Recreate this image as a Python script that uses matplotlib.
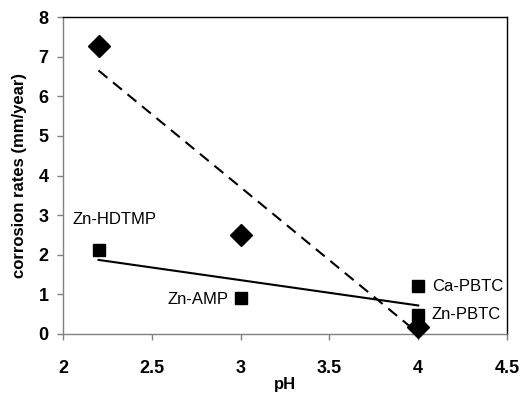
import matplotlib
matplotlib.use('Agg')
from matplotlib import pyplot as plt

# data
ph_diamond = [2.2, 3.0, 4.0]
rate_diamond = [7.28, 2.5, 0.18]

ph_square = [2.2, 3.0, 4.0, 4.0]
rate_square = [2.12, 0.9, 1.2, 0.47]
square_names = ['Zn-HDTMP', 'Zn-AMP', 'Ca-PBTC', 'Zn-PBTC']

# trend line end points
trend_dash_x = [2.2, 4.0]
trend_dash_y = [6.65, 0.02]
trend_solid_x = [2.2, 4.0]
trend_solid_y = [1.87, 0.72]

plt.rcParams['font.family'] = ['Liberation Sans', 'DejaVu Sans']

fig = plt.figure(figsize=(5.22, 4.0), dpi=100)
fig.patch.set_facecolor('white')
ax = fig.add_axes([0.1207, 0.165, 0.8506, 0.7925])

ax.plot(trend_dash_x, trend_dash_y, color='black', linestyle=(0, (5.5, 3.5)), linewidth=1.5)
ax.plot(trend_solid_x, trend_solid_y, color='black', linewidth=1.5)
ax.plot(ph_diamond, rate_diamond, 'D', color='black', markersize=11, clip_on=False, zorder=5)
ax.plot(ph_square, rate_square, 's', color='black', markersize=9, clip_on=False, zorder=5)

# labels for the square points
ax.text(2.056, 2.9, square_names[0], fontsize=12, va='center', ha='left')
ax.text(2.93, 0.86, square_names[1], fontsize=12, va='center', ha='right')
ax.text(4.076, 1.2, square_names[2], fontsize=12, va='center', ha='left')
ax.text(4.076, 0.48, square_names[3], fontsize=12, va='center', ha='left')

ax.set_xlim(2, 4.5)
ax.set_ylim(0, 8)
ax.set_xticks([2, 2.5, 3, 3.5, 4, 4.5])
ax.set_xticklabels(['2', '2.5', '3', '3.5', '4', '4.5'])
ax.set_yticks(range(0, 9))
ax.tick_params(direction='out', length=4.5, width=1, labelsize=13, color='#808080')
ax.tick_params(axis='x', pad=14)
ax.tick_params(axis='y', pad=6)
for lab in ax.get_xticklabels() + ax.get_yticklabels():
    lab.set_fontweight('bold')
for sp in ax.spines.values():
    sp.set_linewidth(1)
ax.spines['left'].set_color('#808080')
ax.spines['bottom'].set_color('#808080')

ax.set_xlabel('pH', fontsize=12, fontweight='bold', labelpad=0)
ax.set_ylabel('corrosion rates (mm/year)', fontsize=12, fontweight='bold', labelpad=8)

fig.savefig('out.png', dpi=100)
